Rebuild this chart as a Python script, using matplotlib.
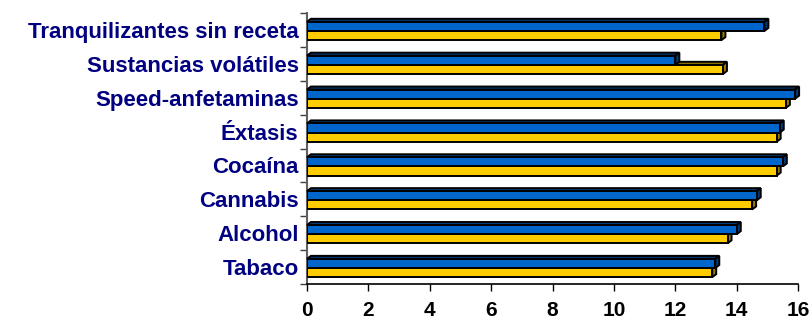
import matplotlib.pyplot as plt
from matplotlib.patches import Polygon
import numpy as np

# datos
categorias = ['Tabaco', 'Alcohol', 'Cannabis', 'Cocaína', 'Éxtasis',
              'Speed-anfetaminas', 'Sustancias volátiles', 'Tranquilizantes sin receta']
serie_azul = [13.3, 14.0, 14.65, 15.5, 15.4, 15.9, 12.0, 14.9]
serie_amarilla = [13.2, 13.7, 14.5, 15.3, 15.3, 15.6, 13.55, 13.5]
ticks_x = [0, 2, 4, 6, 8, 10, 12, 14, 16]

AZUL = '#0066CC'
AZUL_OSC = '#003A78'
AMARILLO = '#FFCC00'
AMARILLO_OSC = '#9C7A00'
NAVY = '#000080'
H = 0.27        # alto de cada barra
DX = 0.13       # profundidad en x
DY = 0.09       # profundidad en y


def barra_3d(ax, y0, v, color, oscuro, z):
    """barra con cara superior y lateral"""
    top = [(0, y0 + H), (v, y0 + H), (v + DX, y0 + H + DY), (DX, y0 + H + DY)]
    side = [(v, y0), (v + DX, y0 + DY), (v + DX, y0 + H + DY), (v, y0 + H)]
    ax.add_patch(Polygon(top, closed=True, fc=oscuro, ec='black', lw=1.4, zorder=z, clip_on=False))
    ax.add_patch(Polygon(side, closed=True, fc=oscuro, ec='black', lw=1.4, zorder=z, clip_on=False))


fig = plt.figure(figsize=(8.12, 3.18), dpi=100)
ax = fig.add_axes([0.378, 0.107, 0.605, 0.852])

y = np.arange(len(categorias))
y_am = y - 0.30
y_az = y - 0.03

for i in range(len(categorias)):
    barra_3d(ax, y_am[i], serie_amarilla[i], AMARILLO, AMARILLO_OSC, 2)
ax.barh(y_am, serie_amarilla, height=H, align='edge', color=AMARILLO,
        edgecolor='black', linewidth=1.4, zorder=3)
for i in range(len(categorias)):
    barra_3d(ax, y_az[i], serie_azul[i], AZUL, AZUL_OSC, 4)
ax.barh(y_az, serie_azul, height=H, align='edge', color=AZUL,
        edgecolor='black', linewidth=1.4, zorder=5)

ax.set_xlim(0, 16)
ax.set_ylim(-0.5, len(categorias) - 0.5)
ax.set_xticks(ticks_x)
ax.set_xticklabels([str(t) for t in ticks_x], fontsize=15, fontweight='bold',
                   family='Liberation Sans')
ax.set_yticks(y)
ax.set_yticklabels(categorias, fontsize=16, fontweight='bold', color=NAVY,
                   family='Liberation Sans')
ax.set_yticks(np.arange(len(categorias) + 1) - 0.5, minor=True)
ax.tick_params(axis='y', which='major', length=0, pad=6)
ax.tick_params(axis='y', which='minor', length=5, width=1, color='#404040')
ax.tick_params(axis='x', length=5, width=1, pad=7)

for s in ['top', 'right']:
    ax.spines[s].set_visible(False)
ax.spines['left'].set_color('#606060')
ax.spines['left'].set_linewidth(1.5)
ax.spines['bottom'].set_linewidth(1.2)

fig.savefig('out.png', dpi=100)
